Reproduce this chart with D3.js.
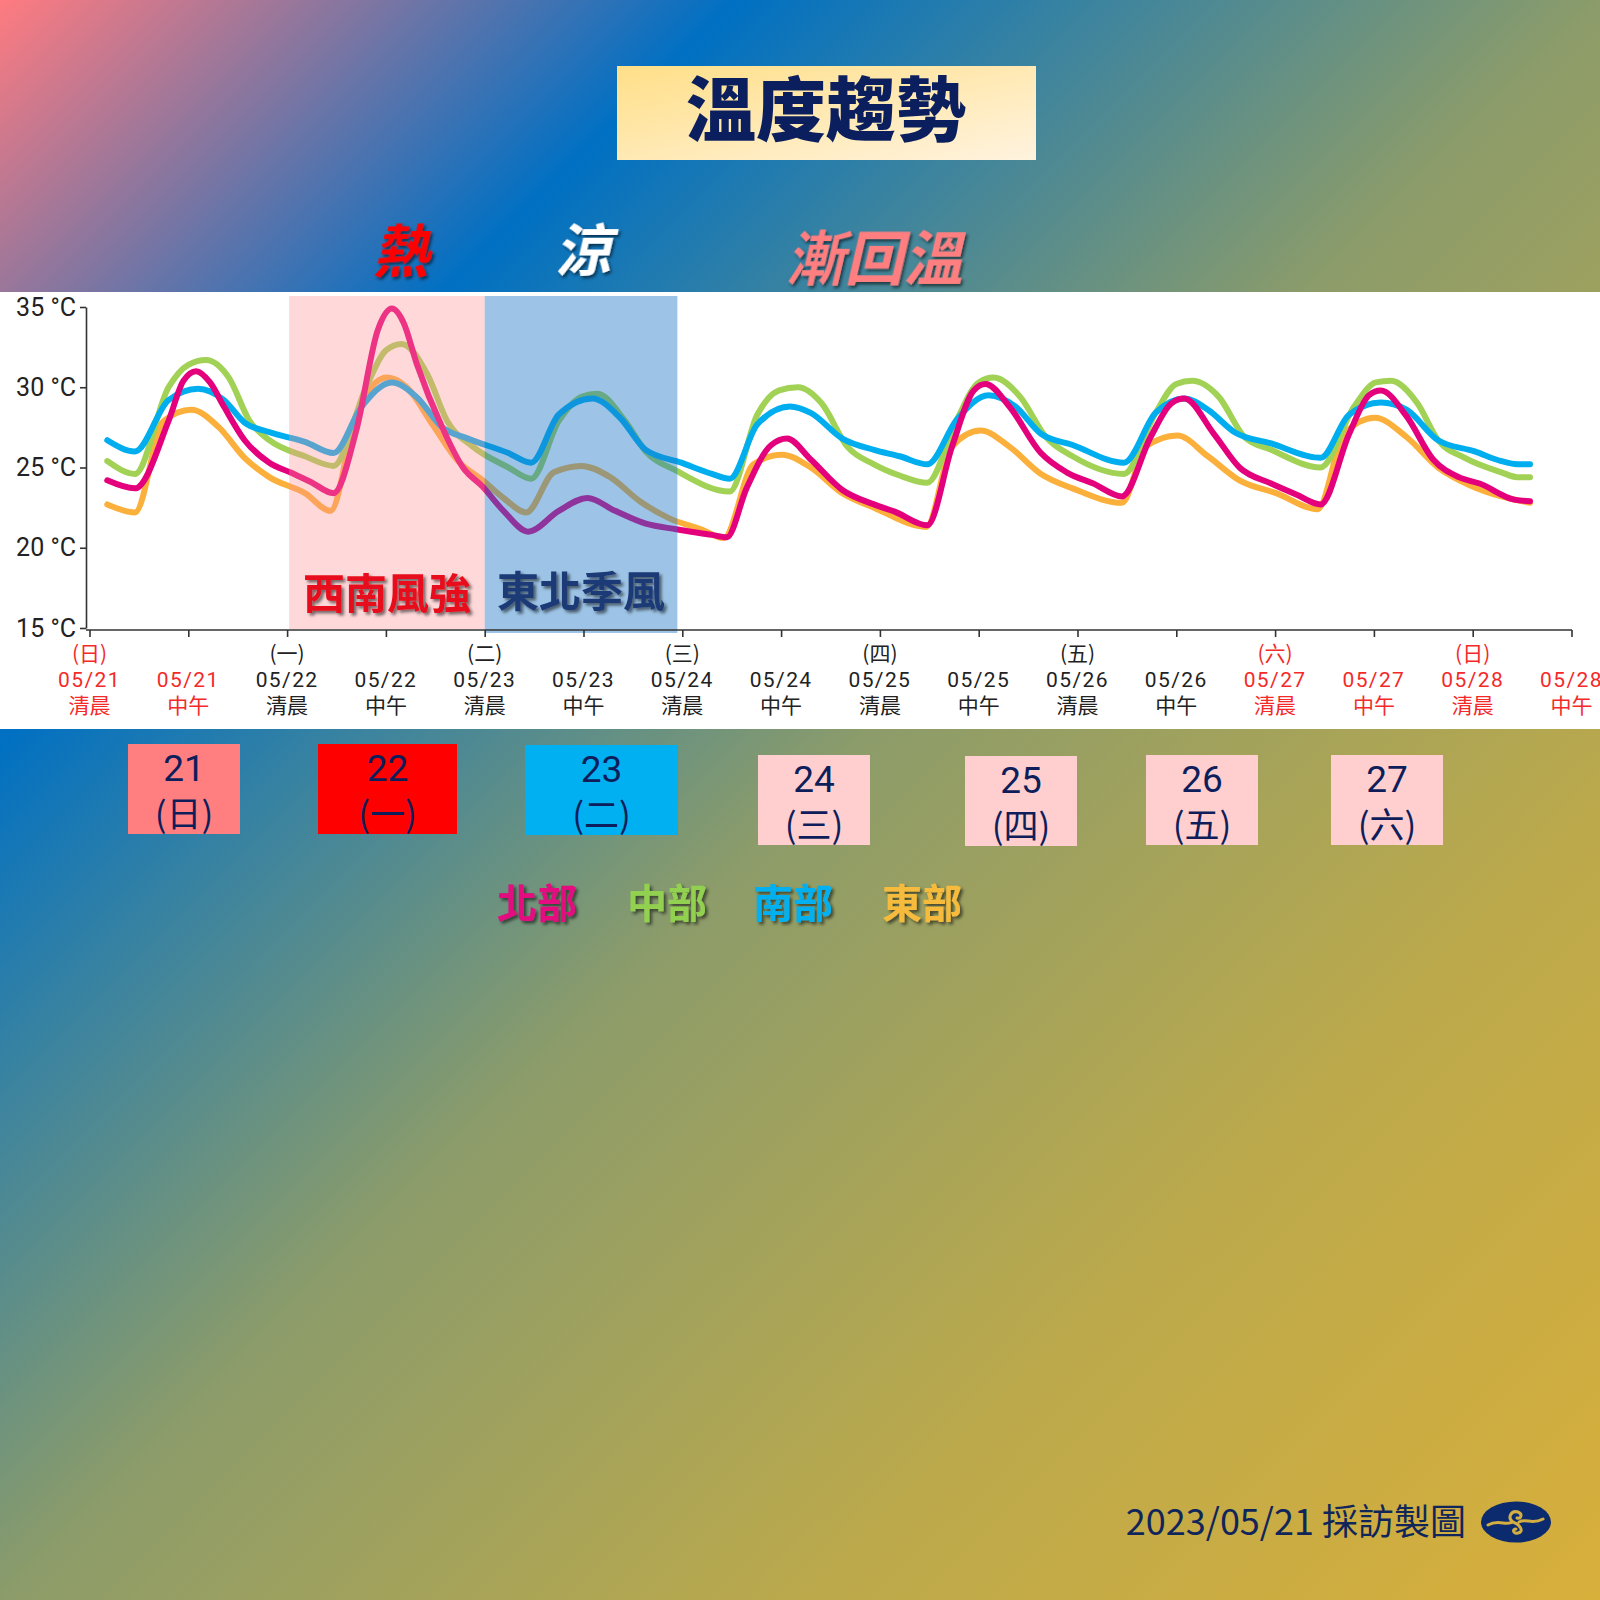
<!DOCTYPE html>
<html>
<head>
<meta charset="utf-8">
<script src="https://cdn.jsdelivr.net/npm/d3@7"></script>
<style>
  body { margin: 0; }
  svg { display: block; }
</style>
</head>
<body>
<script>
// ---- data ----
const tickDates = ["05/21","05/21","05/22","05/22","05/23","05/23","05/24","05/24",
                   "05/25","05/25","05/26","05/26","05/27","05/27","05/28","05/28"];
const tickParts = ["清晨","中午","清晨","中午","清晨","中午","清晨","中午",
                   "清晨","中午","清晨","中午","清晨","中午","清晨","中午"];
const tickWeekdays = ["(日)","","(一)","","(二)","","(三)","","(四)","","(五)","","(六)","","(日)",""];
const redDates = ["05/21","05/27","05/28"];
const yTicks = [15, 20, 25, 30, 35];

// [time index, °C] (1 unit = one tick)
const north = [[0.18,24.2],[0.46,23.7],[0.80,27.9],[0.95,30.4],[1.08,31.0],[1.22,30.3],[1.36,28.8],[1.57,26.7],
  [1.82,25.3],[2.03,24.7],[2.24,24.1],[2.47,23.4],[2.70,27.3],[2.92,33.6],[3.06,34.9],[3.18,34.0],[3.31,31.5],
  [3.57,27.5],[3.78,25.0],[3.98,23.8],[4.19,22.3],[4.44,21.0],[4.75,22.3],[5.04,23.1],[5.32,22.3],[5.63,21.5],
  [5.94,21.15],[6.30,20.8],[6.45,20.65],[6.65,23.7],[6.90,26.4],[7.06,26.8],[7.30,25.5],[7.62,23.6],[7.94,22.7],
  [8.15,22.25],[8.48,21.4],[8.73,26.3],[8.95,29.8],[9.07,30.2],[9.31,28.8],[9.63,25.9],[9.89,24.7],[10.16,24.0],
  [10.45,23.2],[10.74,26.9],[10.95,29.0],[11.08,29.3],[11.38,27.1],[11.64,25.0],[11.96,24.0],[12.22,23.3],
  [12.46,22.7],[12.75,27.1],[12.95,29.5],[13.07,29.8],[13.33,28.2],[13.60,25.5],[13.86,24.4],[14.07,24.0],
  [14.42,23.0],[14.58,22.9]];
const central = [[0.18,25.4],[0.46,24.6],[0.80,30.0],[1.00,31.4],[1.18,31.7],[1.41,30.6],[1.62,27.9],[1.82,26.7],
  [2.18,25.7],[2.47,25.1],[2.80,30.0],[3.00,32.3],[3.16,32.7],[3.42,30.8],[3.62,27.9],[3.88,26.3],[4.24,25.0],
  [4.47,24.3],[4.75,27.9],[4.98,29.4],[5.14,29.6],[5.42,27.9],[5.63,26.0],[5.94,24.8],[6.48,23.5],[6.76,28.3],
  [6.98,29.8],[7.17,30.0],[7.41,29.0],[7.67,26.3],[7.94,25.2],[8.20,24.5],[8.48,24.05],[8.78,28.0],[9.00,30.3],
  [9.15,30.6],[9.42,29.4],[9.68,26.9],[9.95,25.7],[10.47,24.6],[10.79,28.4],[11.00,30.2],[11.16,30.4],
  [11.43,29.4],[11.69,26.9],[11.96,26.1],[12.46,25.0],[12.80,28.8],[13.02,30.3],[13.17,30.4],[13.44,29.0],
  [13.65,26.7],[13.92,25.6],[14.29,24.7],[14.45,24.4],[14.58,24.4]];
const south = [[0.18,26.7],[0.46,26.0],[0.80,29.2],[1.10,29.9],[1.36,29.2],[1.57,27.8],[1.82,27.2],[2.18,26.6],
  [2.47,25.9],[2.75,28.75],[3.06,30.3],[3.31,29.4],[3.57,27.5],[3.83,26.8],[4.24,25.9],[4.47,25.3],[4.75,28.3],
  [5.09,29.3],[5.37,28.1],[5.63,26.1],[5.99,25.3],[6.30,24.6],[6.48,24.3],[6.76,27.7],[7.09,28.8],[7.30,28.4],
  [7.62,26.8],[7.94,26.1],[8.20,25.7],[8.48,25.2],[8.78,28.0],[9.10,29.5],[9.37,28.8],[9.63,27.1],[9.95,26.4],
  [10.47,25.3],[10.79,28.4],[11.08,29.3],[11.32,28.6],[11.59,27.2],[11.96,26.5],[12.46,25.6],[12.75,28.3],
  [13.07,29.05],[13.33,28.6],[13.65,26.7],[14.02,26.0],[14.29,25.4],[14.45,25.2],[14.58,25.2]];
const east = [[0.18,22.7],[0.46,22.2],[0.75,27.9],[1.03,28.6],[1.31,27.5],[1.57,25.6],[1.82,24.4],[2.18,23.4],
  [2.44,22.3],[2.70,28.3],[3.01,30.6],[3.21,30.0],[3.47,27.7],[3.73,25.4],[3.98,24.2],[4.19,23.1],[4.42,22.2],
  [4.70,24.7],[4.98,25.1],[5.27,24.4],[5.57,22.9],[5.88,21.8],[6.19,21.15],[6.42,20.6],[6.72,25.2],[7.01,25.8],
  [7.30,25.0],[7.62,23.4],[7.94,22.5],[8.47,21.3],[8.73,26.3],[9.02,27.3],[9.31,26.3],[9.63,24.6],[9.95,23.7],
  [10.45,22.8],[10.69,26.3],[11.01,27.0],[11.32,25.7],[11.64,24.2],[12.01,23.4],[12.43,22.4],[12.70,27.1],
  [13.01,28.1],[13.33,26.9],[13.65,25.0],[13.97,23.9],[14.29,23.2],[14.58,22.8]];

const seriesNames = ["北部","中部","南部","東部"];
const seriesColors = ["#e4007c","#a2d255","#00aeef","#fbb03b"];
const legendColors = ["#e4097f","#92d050","#00b0f0","#f6bb3e"];

const dayNums = ["21","22","23","24","25","26","27"];
const dayWeek = ["(日)","(一)","(二)","(三)","(四)","(五)","(六)"];
const dayFill = ["#ff7f80","#ff0000","#00b0f0","#ffcfcf","#ffcfcf","#ffcfcf","#ffcfcf"];

// ---- layout ----
const W = 1600, H = 1600;
const dayBoxX = [128, 318, 525, 758, 965, 1146, 1331];
const dayBoxY = [744, 744, 745, 755, 756, 755, 755];
const dayBoxW = [112, 139, 153, 112, 112, 112, 112];
const legendX = [537, 667, 793, 922];
const CJK = "'Noto Sans CJK TC', 'Noto Sans CJK SC', sans-serif";
const LAT = "Roboto, 'Noto Sans CJK TC', sans-serif";

const svg = d3.select("body").append("svg")
  .attr("width", W).attr("height", H);
const defs = svg.append("defs");

const bg = defs.append("linearGradient").attr("id","bg")
  .attr("x1",0).attr("y1",0).attr("x2",1).attr("y2",1);
[[0,"#ff7b80"],[0.23,"#0070c3"],[0.34,"#3a83a0"],[0.5,"#8c9c6a"],[0.75,"#bba94c"],[1,"#d8af3b"]]
  .forEach(s => bg.append("stop").attr("offset",s[0]).attr("stop-color",s[1]));

const tg = defs.append("linearGradient").attr("id","titlebg")
  .attr("x1",0).attr("y1",0).attr("x2",1).attr("y2",1);
tg.append("stop").attr("offset",0).attr("stop-color","#ffdf88");
tg.append("stop").attr("offset",1).attr("stop-color","#fff3df");

const sh = defs.append("filter").attr("id","shadow")
  .attr("x","-20%").attr("y","-20%").attr("width","140%").attr("height","140%");
sh.append("feDropShadow").attr("dx",2.5).attr("dy",2.5).attr("stdDeviation",1.5)
  .attr("flood-color","#000").attr("flood-opacity",0.55);

svg.append("rect").attr("width",W).attr("height",H).attr("fill","url(#bg)");

// ---- title ----
svg.append("rect").attr("x",617).attr("y",66).attr("width",419).attr("height",94)
  .attr("fill","url(#titlebg)");
svg.append("text").attr("x",826).attr("y",136)
  .attr("text-anchor","middle").attr("font-family",CJK).attr("font-weight",900)
  .attr("font-size",70).attr("fill","#0b1f5e").text("溫度趨勢");

// ---- top remarks ----
const remarks = [
  {t:"熱", x:401, y:272, s:56, c:"#ff0000"},
  {t:"涼", x:583, y:271, s:56, c:"#ffffff"},
  {t:"漸回溫", x:874, y:280, s:59, c:"#ff7f80"}
];
remarks.forEach(r => {
  svg.append("text")
    .attr("transform", "translate(" + r.x + "," + r.y + ") skewX(-13)")
    .attr("text-anchor","middle").attr("font-family",CJK).attr("font-weight",700)
    .attr("font-size",r.s).attr("fill",r.c).attr("filter","url(#shadow)")
    .text(r.t);
});

// ---- chart ----
svg.append("rect").attr("x",0).attr("y",292).attr("width",W).attr("height",437).attr("fill","#fff");

const x = d3.scaleLinear().domain([0,15]).range([89.5,1571.5]);
const y = d3.scaleLinear().domain([15,35]).range([628,307]);

const line = d3.line().x(d => x(d[0])).y(d => y(d[1])).curve(d3.curveMonotoneX);
const gLines = svg.append("g");
[[east,3],[central,1],[south,2],[north,0]].forEach(([s, ci]) => {
  gLines.append("path").datum(s).attr("d", line)
    .attr("fill","none").attr("stroke",seriesColors[ci])
    .attr("stroke-width",6).attr("stroke-linecap","round").attr("stroke-linejoin","round");
});

// weather bands drawn over the lines
svg.append("rect").attr("x",x(2.02)).attr("y",296)
  .attr("width",x(4.0)-x(2.02)).attr("height",333)
  .attr("fill","rgb(255,146,149)").attr("fill-opacity",0.35);
svg.append("rect").attr("x",x(4.0)).attr("y",296)
  .attr("width",x(5.95)-x(4.0)).attr("height",337)
  .attr("fill","rgb(30,119,197)").attr("fill-opacity",0.435);

svg.append("text").attr("x",(x(2.02)+x(4.0))/2).attr("y",609)
  .attr("text-anchor","middle").attr("font-family",CJK).attr("font-weight",700)
  .attr("font-size",42).attr("fill","#e8101e").attr("filter","url(#shadow)").text("西南風強");
svg.append("text").attr("x",(x(4.0)+x(5.95))/2).attr("y",607)
  .attr("text-anchor","middle").attr("font-family",CJK).attr("font-weight",700)
  .attr("font-size",42).attr("fill","#1d3a76").attr("filter","url(#shadow)").text("東北季風");

// axes
const yAxis = svg.append("g").attr("transform","translate(86,0)")
  .call(d3.axisLeft(y).tickValues(yTicks).tickSize(6).tickSizeOuter(0).tickFormat(d => d + " °C"));
yAxis.selectAll("text").attr("font-family",LAT).attr("font-size",25).attr("fill","#222").attr("dx",-1);

const xAxis = svg.append("g").attr("transform","translate(0,630)")
  .call(d3.axisBottom(x).tickValues(d3.range(16)).tickSize(7).tickSizeOuter(0).tickFormat(""));
[yAxis, xAxis].forEach(a => {
  a.select(".domain").attr("stroke","#333").attr("stroke-width",1.6);
  a.selectAll(".tick line").attr("stroke","#333").attr("stroke-width",1.6);
});
xAxis.select(".domain").attr("d","M86,0H1572");

const xl = svg.append("g").attr("font-family",LAT).attr("font-size",21).attr("text-anchor","middle");
tickDates.forEach((d, i) => {
  const col = redDates.includes(d) ? "#f42a2a" : "#222";
  if (tickWeekdays[i]) xl.append("text").attr("x",x(i)).attr("y",661).attr("fill",col)
    .attr("font-family",CJK).text(tickWeekdays[i]);
  xl.append("text").attr("x",x(i)).attr("y",687).attr("fill",col)
    .attr("letter-spacing",1.4).text(d);
  xl.append("text").attr("x",x(i)).attr("y",713).attr("fill",col)
    .attr("font-family",CJK).text(tickParts[i]);
});

// ---- day boxes ----
dayNums.forEach((n, i) => {
  const bx = dayBoxX[i], by = dayBoxY[i], bw = dayBoxW[i];
  svg.append("rect").attr("x",bx).attr("y",by).attr("width",bw).attr("height",90).attr("fill",dayFill[i]);
  svg.append("text").attr("x",bx+bw/2).attr("y",by+37).attr("text-anchor","middle")
    .attr("font-family",LAT).attr("font-size",37).attr("fill","#0e1e5b").text(n);
  svg.append("text").attr("x",bx+bw/2).attr("y",by+83).attr("text-anchor","middle")
    .attr("font-family",CJK).attr("font-size",35).attr("fill","#0e1e5b").text(dayWeek[i]);
});

// ---- legend ----
seriesNames.forEach((n, i) => {
  svg.append("text").attr("x",legendX[i]).attr("y",918).attr("text-anchor","middle")
    .attr("font-family",CJK).attr("font-weight",700).attr("font-size",40)
    .attr("fill",legendColors[i]).attr("filter","url(#shadow)").text(n);
});

// ---- footer ----
svg.append("text").attr("x",1466).attr("y",1535).attr("text-anchor","end")
  .attr("font-family",CJK).attr("font-size",36).attr("fill","#10265a").text("2023/05/21 採訪製圖");
const logo = svg.append("g").attr("transform","translate(1516,1522)");
logo.append("ellipse").attr("rx",35).attr("ry",20.5).attr("fill","#0c2a6e");
logo.append("path")
  .attr("d","M-28,3 C-18,-3 -10,4 -3,0 C-9,-4 -5,-12 2,-10 C7,-8 5,-3 1,-4 M3,0 C10,-4 16,3 27,-3 M-3,0 C5,3 8,10 2,11 C-3,12 -4,7 0,7")
  .attr("fill","none").attr("stroke","#d3ae42").attr("stroke-width",3).attr("stroke-linecap","round");
</script>
</body>
</html>
